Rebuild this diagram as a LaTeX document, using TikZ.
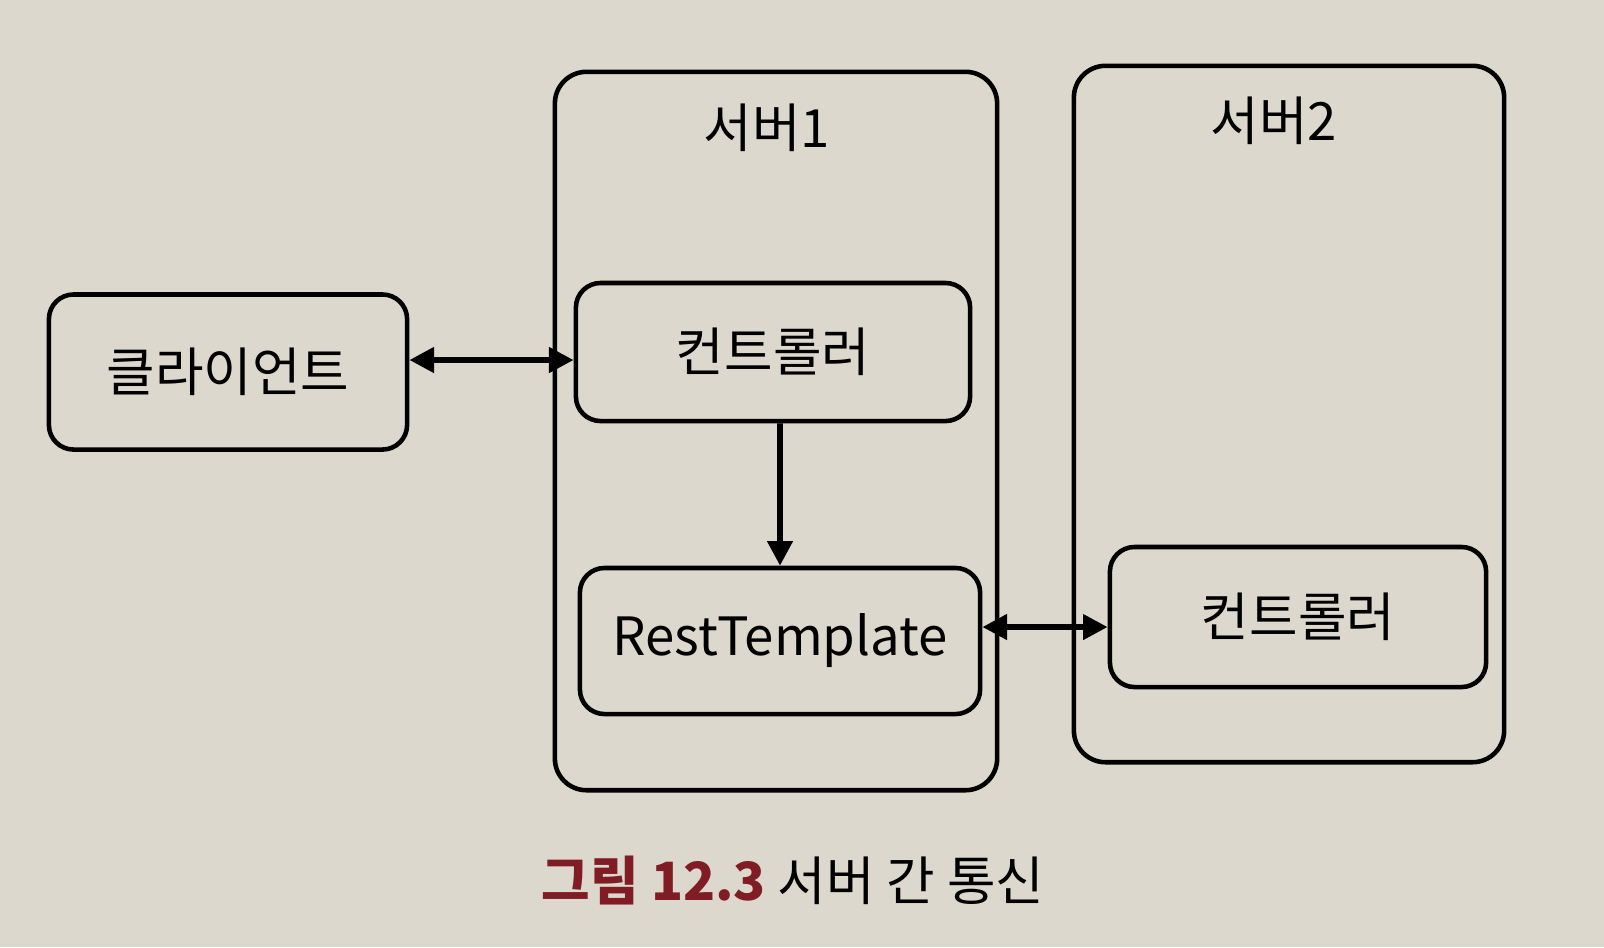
\documentclass[tikz,border=0pt]{standalone}
\usepackage{fontspec}
\setmainfont{Noto Sans CJK KR}
\usetikzlibrary{arrows.meta}
\definecolor{paper}{RGB}{221,216,205}
\definecolor{capred}{RGB}{128,28,36}
\tikzset{
  outer/.style={draw, line width=1.3pt, rounded corners=9pt},
  inner/.style={draw, line width=1.3pt, rounded corners=7pt, font=\fontsize{15pt}{18pt}\selectfont},
  link/.style={line width=1.6pt, {Triangle[length=7pt,width=7pt]}-{Triangle[length=7pt,width=7pt]}},
}
\begin{document}
\begin{tikzpicture}[x=0.01cm,y=-0.01cm]
\fill[paper] (0,0) rectangle (1604,947);
\useasboundingbox (0,0) rectangle (1604,947);
% servers
\node[outer, minimum width=4.42cm, minimum height=7.18cm] (srvone) at (776,431) {};
\node[outer, minimum width=4.30cm, minimum height=6.96cm] (srvtwo) at (1289,414) {};
\node[font=\fontsize{15pt}{18pt}\selectfont] (srvonelab) at (767,128) {서버1};
\node[font=\fontsize{15pt}{18pt}\selectfont] (srvtwolab) at (1274,121) {서버2};
% boxes
\node[inner, minimum width=3.58cm, minimum height=1.55cm] (client) at (228,372) {클라이언트};
\node[inner, minimum width=3.94cm, minimum height=1.38cm] (ctrlone) at (773,352) {컨트롤러};
\node[inner, minimum width=4.00cm, minimum height=1.46cm] (rest) at (780,641) {RestTemplate};
\node[inner, minimum width=3.76cm, minimum height=1.40cm] (ctrltwo) at (1298,617) {컨트롤러};
% arrows
\draw[link] ([yshift=0.12cm]client.east) -- ([yshift=-0.08cm]ctrlone.west);
\draw[line width=1.6pt, -{Triangle[length=7pt,width=7pt]}] ([xshift=0.07cm]ctrlone.south) -- (rest.north);
\draw[link] ([yshift=0.14cm]rest.east) -- ([yshift=-0.1cm]ctrltwo.west);
% caption
\node[font=\fontsize{15pt}{18pt}\selectfont] (cap) at (793,880) {{\bfseries\color{capred}그림 12.3} 서버 간 통신};
\end{tikzpicture}
\end{document}
